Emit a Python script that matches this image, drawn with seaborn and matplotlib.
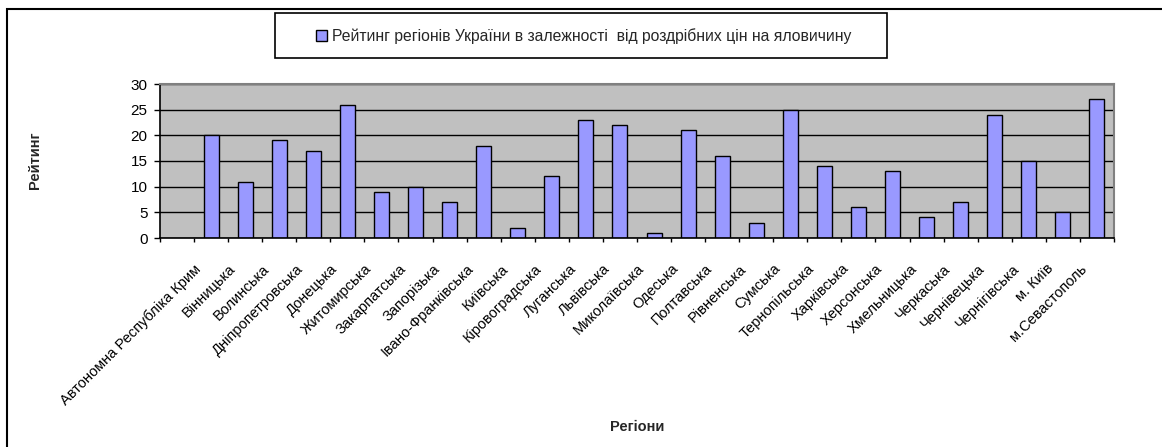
import matplotlib
matplotlib.use('Agg')
import matplotlib.pyplot as plt
import matplotlib.patches as patches
import matplotlib.transforms as mtransforms
from matplotlib.ticker import FixedLocator
import numpy as np
import seaborn as sns

sns.set_theme(style="white")
plt.rcParams['font.family'] = ['Liberation Sans', 'DejaVu Sans']

# Data
regions = ['Автономна Республіка Крим', 'Вінницька', 'Волинська', 'Дніпропетровська',
           'Донецька', 'Житомирська', 'Закарпатська', 'Запорізька', 'Івано-Франківська',
           'Київська', 'Кіровоградська', 'Луганська', 'Львівська', 'Миколаївська',
           'Одеська', 'Полтавська', 'Рівненська', 'Сумська', 'Тернопільська',
           'Харківська', 'Херсонська', 'Хмельницька', 'Черкаська', 'Чернівецька',
           'Чернігівська', 'м. Київ', 'м.Севастополь']
rating = [20, 11, 19, 17, 26, 9, 10, 7, 18, 2, 12, 23, 22, 1, 21, 16, 3, 25, 14,
          6, 13, 4, 7, 24, 15, 5, 27]
y_ticks = [0, 5, 10, 15, 20, 25, 30]
series_name = 'Рейтинг регіонів України в залежності  від роздрібних цін на яловичину'

# the original chart has one empty category slot before the first bar
order = [''] + regions

W, H = 1162, 447
fig = plt.figure(figsize=(W / 100, H / 100), dpi=100)
ax = fig.add_axes([160 / W, 1 - 238 / H, (1114 - 160) / W, (238 - 84) / H])
ax.set_facecolor('#C0C0C0')

sns.barplot(x=regions, y=rating, order=order, color='#9999FF', saturation=1,
            edgecolor='black', linewidth=1, width=0.44, ax=ax, label=series_name)

ax.set_ylim(0, 30)
ax.set_xlim(-0.5, len(order) - 0.5)
ax.set_yticks(y_ticks)
ax.yaxis.grid(True, color='black', linewidth=1)
ax.set_axisbelow(True)
for s in ['top', 'right']:
    ax.spines[s].set_color('#808080')
    ax.spines[s].set_linewidth(1.5)
for s in ['left', 'bottom']:
    ax.spines[s].set_color('black')
    ax.spines[s].set_linewidth(1.2)

ax.tick_params(axis='y', direction='out', length=4, width=1, color='black',
               pad=5, labelsize=11, left=True, labelcolor='black')
ax.xaxis.set_minor_locator(FixedLocator(np.arange(-0.5, len(order), 1)))
ax.tick_params(axis='x', which='minor', direction='out', length=3, width=1,
               color='black', bottom=True)
ax.tick_params(axis='x', which='major', length=0, pad=17, labelsize=10.5,
               labelcolor='black')
ax.set_xticks(range(len(order)))
ax.set_xticklabels(order, rotation=45, ha='right', va='top', rotation_mode='anchor')
shift = mtransforms.ScaledTranslation(-17 / 100, 0, fig.dpi_scale_trans)
for lab in ax.get_xticklabels():
    lab.set_transform(lab.get_transform() + shift)

ax.set_xlabel('')
ax.set_ylabel('')
fig.text(35 / W, 1 - 160 / H, 'Рейтинг', rotation=90, fontsize=10.5,
         fontweight='bold', ha='center', va='center')
fig.text(637 / W, 1 - 427 / H, 'Регіони', fontsize=10.5, fontweight='bold',
         ha='center', va='center')

# legend: entry placed inside a separately drawn box
leg = ax.legend(loc='center left', bbox_to_anchor=(316 / W, 1 - 36 / H),
                bbox_transform=fig.transFigure, fontsize=11.3, frameon=False,
                borderpad=0, borderaxespad=0,
                handlelength=0.7, handleheight=0.7, handletextpad=0.3)
fig.patches.append(patches.Rectangle((275 / W, 1 - 58 / H), (887 - 275) / W, 45 / H,
                                     transform=fig.transFigure, fill=False,
                                     edgecolor='black', linewidth=1.2))

# outer chart frame (right and bottom edges fall outside the image)
fig.patches.append(patches.Rectangle((7 / W, -0.05), 1.1, 1.05 - 9 / H,
                                     transform=fig.transFigure, fill=False,
                                     edgecolor='black', linewidth=1.5))

fig.savefig('out.png', dpi=100)
